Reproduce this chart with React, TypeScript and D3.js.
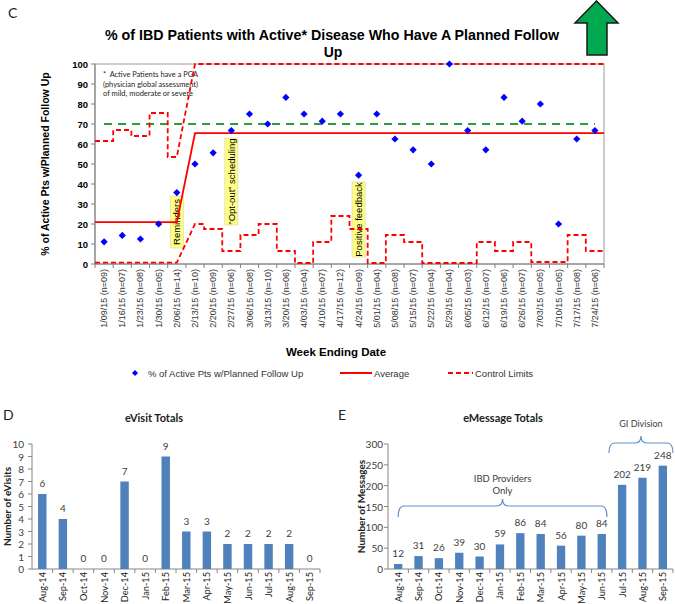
import React from "react";
import * as d3 from "d3";

// ---------- Top chart data ----------
const weeks = ["1/09/15","1/16/15","1/23/15","1/30/15","2/06/15","2/13/15","2/20/15","2/27/15","3/06/15","3/13/15","3/20/15","4/03/15","4/10/15","4/17/15","4/24/15","5/01/15","5/08/15","5/15/15","5/22/15","5/29/15","6/05/15","6/12/15","6/19/15","6/26/15","7/03/15","7/10/15","7/17/15","7/24/15"];
const nCounts = [9,7,8,5,14,10,9,6,8,10,6,4,7,12,9,4,8,7,4,4,3,7,6,7,5,5,8,6];
const pctFollowUp = [11.1,14.3,12.5,20,35.7,50,55.6,66.7,75,70,83.3,75,71.4,75,44.4,75,62.5,57.1,50,100,66.7,57.1,83.3,71.4,80,20,62.5,66.7];
const average = [20.9,20.9,20.9,20.9,20.9,65.4,65.4,65.4,65.4,65.4,65.4,65.4,65.4,65.4,65.4,65.4,65.4,65.4,65.4,65.4,65.4,65.4,65.4,65.4,65.4,65.4,65.4,65.4];
const upperLimit = [61.5,67,64,75.5,53.5,100,100,100,100,100,100,100,100,100,100,100,100,100,100,100,100,100,100,100,100,100,100,100];
const lowerLimit = [0.7,0.7,0.7,0.7,0.7,20,17.5,6.5,14.5,20,6.5,0.5,11,24,17.5,0.5,14.5,11,0.5,0.5,0.5,11,6.5,11,1,1,14.5,6.5];
const targetValue = 70;
const phaseBreak = 5;
const yTicksTop = [0,10,20,30,40,50,60,70,80,90,100];
const annotations = [
  { week: "2/06/15", text: "Reminders", top: 34, bottom: 8 },
  { week: "2/27/15", text: "\u201COpt-out\u201D scheduling", top: 63, bottom: 19.5 },
  { week: "4/24/15", text: "Positive feedback", top: 41, bottom: 3.5 },
];
const noteLines = ["*  Active Patients have a PGA", "(physician global assessment)", "of mild, moderate or severe"];

// ---------- Bottom charts data ----------
const months = ["Aug-14","Sep-14","Oct-14","Nov-14","Dec-14","Jan-15","Feb-15","Mar-15","Apr-15","May-15","Jun-15","Jul-15","Aug-15","Sep-15"];
const eVisits = [6,4,0,0,7,0,9,3,3,2,2,2,2,0];
const eMessages = [12,31,26,39,30,59,86,84,56,80,84,202,219,248];
const eVisitTicks = [0,1,2,3,4,5,6,7,8,9,10];
const eMessageTicks = [0,50,100,150,200,250,300];

const ARIAL = "'Liberation Sans', Arial, sans-serif";
const CAL = "Lato, 'Open Sans', sans-serif";
const RED = "#FF0000";
const BAR = "#4F81BD";

function TopChart() {
  const x = d3.scaleBand<string>().domain(weeks).range([95, 604]).padding(0);
  const bw = x.bandwidth();
  const cx = (i: number) => (x(weeks[i]) as number) + bw / 2;
  const y = d3.scaleLinear().domain([0, 100]).range([264, 64]);
  const line = d3.line<[number, number]>();

  const stepPts = (vals: number[]): [number, number][] => {
    const pts: [number, number][] = [];
    vals.forEach((v, i) => {
      const left = i === phaseBreak ? cx(i) : (x(weeks[i]) as number);
      const right = i === phaseBreak - 1 ? cx(i) : (x(weeks[i]) as number) + bw;
      pts.push([left, y(v)], [right, y(v)]);
    });
    return pts;
  };

  const diamond = d3.symbol().type(d3.symbolSquare).size(26)();

  return (
    <g>
      <text x={8} y={12} fontFamily={CAL} fontSize={14} dominantBaseline="central" fill="#222">C</text>
      {/* green arrow */}
      <polygon points="596.5,1 575,23 587,23 587,55 607,55 607,23 618,23" fill="#00A84F" stroke="#1a1a1a" strokeWidth={1.5} />
      <text x={332} y={35} textAnchor="middle" fontFamily={ARIAL} fontWeight="bold" fontSize={14} textLength={454} lengthAdjust="spacingAndGlyphs" dominantBaseline="central" fill="#000">% of IBD Patients with Active* Disease Who Have A Planned Follow</text>
      <text x={333} y={52} textAnchor="middle" fontFamily={ARIAL} fontWeight="bold" fontSize={14} dominantBaseline="central" fill="#000">Up</text>

      {/* plot frame */}
      <rect x={95} y={64} width={509} height={200} fill="none" stroke="#9a9a9a" strokeWidth={1} />
      <line x1={95} x2={95} y1={64} y2={264} stroke="#808080" />
      <line x1={95} x2={604} y1={264} y2={264} stroke="#808080" />

      {/* y axis */}
      {yTicksTop.map((t) => (
        <g key={t}>
          <line x1={91} x2={95} y1={y(t)} y2={y(t)} stroke="#808080" />
          <text x={88} y={y(t)} textAnchor="end" dominantBaseline="central" fontFamily={ARIAL} fontWeight="bold" fontSize={9.5} fill="#000">{t}</text>
        </g>
      ))}
      <text transform={`translate(45,164) rotate(-90)`} textAnchor="middle" dominantBaseline="central" fontFamily={ARIAL} fontWeight="bold" fontSize={10.5} fill="#000">% of Active Pts w/Planned Follow Up</text>

      {/* x axis ticks and labels */}
      {weeks.map((w, i) => (
        <line key={"t" + i} x1={x(w) as number} x2={x(w) as number} y1={264} y2={268} stroke="#808080" />
      ))}
      <line x1={604} x2={604} y1={264} y2={268} stroke="#808080" />
      {weeks.map((w, i) => (
        <text key={"l" + i} transform={`translate(${cx(i)},269) rotate(-90)`} textAnchor="end" dominantBaseline="central" fontFamily={ARIAL} fontSize={9} fill="#333">{`${w} (n=${String(nCounts[i]).padStart(2, "0")})`}</text>
      ))}
      <text x={336} y={352} textAnchor="middle" dominantBaseline="central" fontFamily={ARIAL} fontWeight="bold" fontSize={11.5} fill="#000">Week Ending Date</text>

      {/* note */}
      {noteLines.map((l, i) => (
        <text key={i} x={103} y={74 + i * 9.7} dominantBaseline="central" fontFamily={CAL} fontSize={8} fill="#222" style={{ whiteSpace: "pre" }} textLength={i === 2 ? 90 : 95} lengthAdjust="spacingAndGlyphs">{l}</text>
      ))}

      {/* annotation boxes */}
      {annotations.map((a, i) => {
        const c = (x(a.week) as number) + bw / 2;
        const y0 = y(a.top), y1 = y(a.bottom);
        return (
          <g key={i}>
            <rect x={c - 6.5} y={y0} width={13} height={y1 - y0} fill="#FFFF88" stroke="#E0E0A0" strokeWidth={0.8} />
            <text transform={`translate(${c},${(y0 + y1) / 2}) rotate(-90)`} textAnchor="middle" dominantBaseline="central" fontFamily={ARIAL} fontSize={9.5} fill="#000">{a.text}</text>
          </g>
        );
      })}

      {/* target */}
      <path d={line(weeks.map((_, i) => [cx(i), y(targetValue)] as [number, number])) as string} fill="none" stroke="#2E9B3E" strokeWidth={2} strokeDasharray="8,6" />
      {/* control limits */}
      <path d={line(stepPts(upperLimit)) as string} fill="none" stroke={RED} strokeWidth={1.8} strokeDasharray="5,3" />
      <path d={line(stepPts(lowerLimit)) as string} fill="none" stroke={RED} strokeWidth={1.8} strokeDasharray="5,3" />
      {/* average */}
      <path d={line(stepPts(average)) as string} fill="none" stroke={RED} strokeWidth={1.8} />

      {/* points */}
      {pctFollowUp.map((v, i) => (
        <path key={i} d={diamond as string} transform={`translate(${cx(i)},${y(v)}) rotate(45)`} fill="#0000FF" />
      ))}

      {/* legend */}
      <path d={d3.symbol().type(d3.symbolSquare).size(18)() as string} transform="translate(135,373) rotate(45)" fill="#0000FF" />
      <text x={148} y={373} dominantBaseline="central" fontFamily={ARIAL} fontSize={9.5} fill="#333">% of Active Pts w/Planned Follow Up</text>
      <line x1={340} x2={372} y1={373} y2={373} stroke={RED} strokeWidth={2} />
      <text x={374} y={373} dominantBaseline="central" fontFamily={ARIAL} fontSize={9.5} fill="#333">Average</text>
      <line x1={448} x2={473} y1={373} y2={373} stroke={RED} strokeWidth={2} strokeDasharray="5,3" />
      <text x={475} y={373} dominantBaseline="central" fontFamily={ARIAL} fontSize={9.5} fill="#333">Control Limits</text>
    </g>
  );
}

function BarChart(props: { x0: number; x1: number; values: number[]; ticks: number[]; max: number; yTitle: string; yTitleX: number; tickX: number }) {
  const { x0, x1, values, ticks, max, yTitle, yTitleX, tickX } = props;
  const x = d3.scaleBand<string>().domain(months).range([x0, x1]).padding(0);
  const bw = x.bandwidth();
  const y = d3.scaleLinear().domain([0, max]).range([569, 444]);
  const barW = bw * 0.41;
  return (
    <g>
      <line x1={x0} x2={x0} y1={444} y2={569} stroke="#868686" />
      <line x1={x0} x2={x1} y1={569} y2={569} stroke="#868686" />
      {ticks.map((t) => (
        <g key={t}>
          <line x1={x0 - 4} x2={x0} y1={y(t)} y2={y(t)} stroke="#868686" />
          <text x={tickX} y={y(t)} textAnchor="end" dominantBaseline="central" fontFamily={CAL} fontSize={10} fill="#404040">{t}</text>
        </g>
      ))}
      {months.map((m, i) => (
        <line key={"t" + i} x1={(x(m) as number) + bw} x2={(x(m) as number) + bw} y1={569} y2={573} stroke="#868686" />
      ))}
      {months.map((m, i) => {
        const c = (x(m) as number) + bw / 2;
        return (
          <g key={m}>
            <rect x={c - barW / 2} y={y(values[i])} width={barW} height={569 - y(values[i])} fill={BAR} />
            <text x={c} y={y(values[i]) - 11} textAnchor="middle" dominantBaseline="central" fontFamily={CAL} fontSize={10} fill="#404040">{values[i]}</text>
            <text transform={`translate(${c},572) rotate(-90)`} textAnchor="end" dominantBaseline="central" fontFamily={CAL} fontSize={9.2} fill="#222">{m}</text>
          </g>
        );
      })}
      <text transform={`translate(${yTitleX},${(444 + 569) / 2}) rotate(-90)`} textAnchor="middle" dominantBaseline="central" fontFamily={CAL} fontWeight="bold" fontSize={10} fill="#222">{yTitle}</text>
    </g>
  );
}

function brace(x1: number, x2: number, xm: number, yBase: number, yTop: number, yPeak: number) {
  const r = 6;
  return `M${x1},${yBase} Q${x1},${yTop} ${x1 + r},${yTop} L${xm - r},${yTop} Q${xm},${yTop} ${xm},${yPeak} Q${xm},${yTop} ${xm + r},${yTop} L${x2 - r},${yTop} Q${x2},${yTop} ${x2},${yBase}`;
}

export default function App() {
  const xE = d3.scaleBand<string>().domain(months).range([388, 673]).padding(0);
  const bwE = xE.bandwidth();
  const ibdL = (xE("Aug-14") as number) + bwE / 2;
  const ibdR = (xE("Jun-15") as number) + bwE - 5;
  const giL = (xE("Jul-15") as number) - 3;
  const giR = (xE("Sep-15") as number) + bwE;
  return (
    <svg width={675} height={604} style={{ position: "absolute", left: 0, top: 0, background: "#fff" }}>
      <rect width={675} height={604} fill="#fff" />
      <TopChart />

      <text x={3} y={414} dominantBaseline="central" fontFamily={CAL} fontSize={14} fill="#222">D</text>
      <text x={154} y={417} textAnchor="middle" dominantBaseline="central" fontFamily={CAL} fontWeight="bold" fontSize={11} fill="#222">eVisit Totals</text>
      <BarChart x0={32} x1={320} values={eVisits} ticks={eVisitTicks} max={10} yTitle="Number of eVisits" yTitleX={7} tickX={24} />

      <text x={338} y={414} dominantBaseline="central" fontFamily={CAL} fontSize={14} fill="#222">E</text>
      <text x={503} y={417} textAnchor="middle" dominantBaseline="central" fontFamily={CAL} fontWeight="bold" fontSize={11} fill="#222">eMessage Totals</text>
      <BarChart x0={388} x1={673} values={eMessages} ticks={eMessageTicks} max={300} yTitle="Number of Messages" yTitleX={361} tickX={383} />

      <path d={brace(ibdL, ibdR, (ibdL + ibdR) / 2, 517, 506, 499)} fill="none" stroke="#5B8FC9" strokeWidth={1.2} />
      <text x={(ibdL + ibdR) / 2} y={478} textAnchor="middle" dominantBaseline="central" fontFamily={CAL} fontSize={9.5} fill="#404040">IBD Providers</text>
      <text x={(ibdL + ibdR) / 2} y={490} textAnchor="middle" dominantBaseline="central" fontFamily={CAL} fontSize={9.5} fill="#404040">Only</text>
      <path d={brace(giL, giR, (giL + giR) / 2, 453, 443, 436)} fill="none" stroke="#5B8FC9" strokeWidth={1.2} />
      <text x={(giL + giR) / 2} y={423} textAnchor="middle" dominantBaseline="central" fontFamily={CAL} fontSize={9} fill="#404040">GI Division</text>
    </svg>
  );
}
